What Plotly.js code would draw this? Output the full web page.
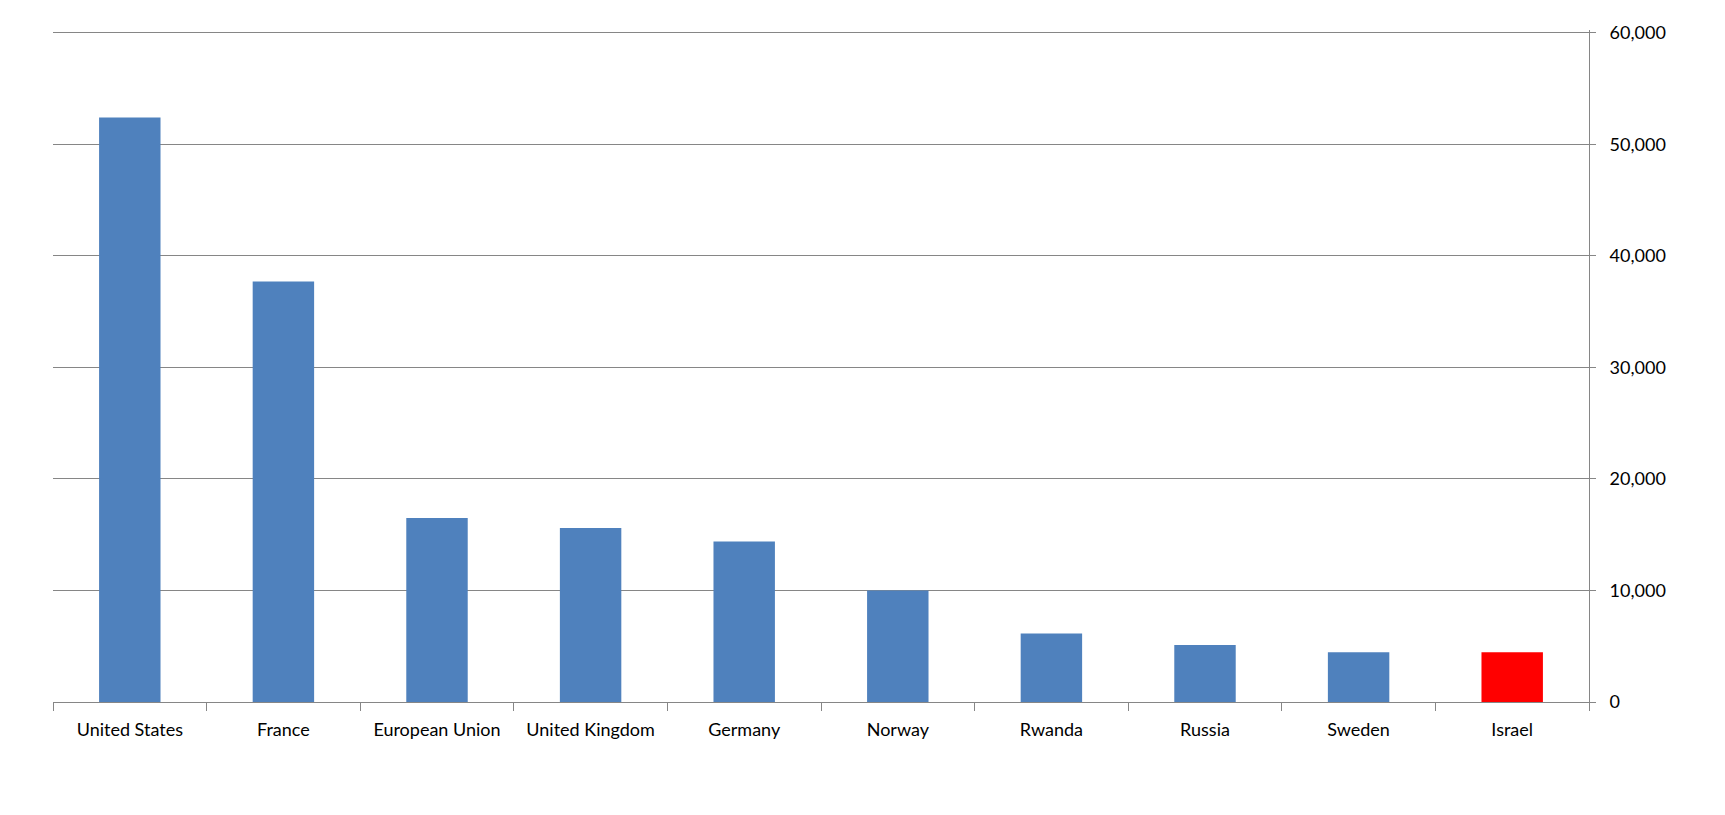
<!DOCTYPE html>
<html>
<head>
<meta charset="utf-8">
<script src="https://cdn.plot.ly/plotly-3.0.1.min.js"></script>
<style>html,body{margin:0;padding:0;background:#fff;}#chart{width:1725px;height:815px;}</style>
</head>
<body>
<div id="chart"></div>
<script>
const countries = ["United States","France","European Union","United Kingdom","Germany","Norway","Rwanda","Russia","Sweden","Israel"];
const values = [52400, 37700, 16500, 15600, 14400, 10000, 6150, 5100, 4450, 4450];
const yTicks = [0, 10000, 20000, 30000, 40000, 50000, 60000];
const highlight = "Israel";

const colors = countries.map(c => c === highlight ? "#FF0000" : "#4F81BD");

const trace = {
  type: "bar",
  x: countries,
  y: values,
  marker: {color: colors, line: {width: 0}},
  hoverinfo: "x+y"
};

const layout = {
  width: 1725,
  height: 815,
  margin: {l: 53, r: 136, t: 30, b: 113, pad: 0},
  paper_bgcolor: "#ffffff",
  plot_bgcolor: "#ffffff",
  bargap: 0.6,
  showlegend: false,
  font: {family: "Lato, 'Open Sans', sans-serif", size: 18, color: "#000000"},
  xaxis: {
    type: "category",
    showline: true,
    linecolor: "#868686",
    linewidth: 1,
    ticks: "outside",
    tickson: "boundaries",
    ticklen: 8,
    tickcolor: "#868686",
    showgrid: false,
    ticklabelstandoff: 11,
    tickfont: {size: 18, color: "#000"}
  },
  yaxis: {
    side: "right",
    range: [0, 60250],
    autorange: false,
    tickvals: yTicks,
    tickformat: ",",
    showline: true,
    linecolor: "#868686",
    linewidth: 1,
    ticks: "outside",
    ticklen: 6,
    tickcolor: "#868686",
    showgrid: true,
    gridcolor: "#868686",
    gridwidth: 1,
    zeroline: false,
    ticklabelstandoff: 10,
    tickfont: {size: 18, color: "#000"}
  }
};

Plotly.newPlot("chart", [trace], layout, {displayModeBar: false});
</script>
</body>
</html>
